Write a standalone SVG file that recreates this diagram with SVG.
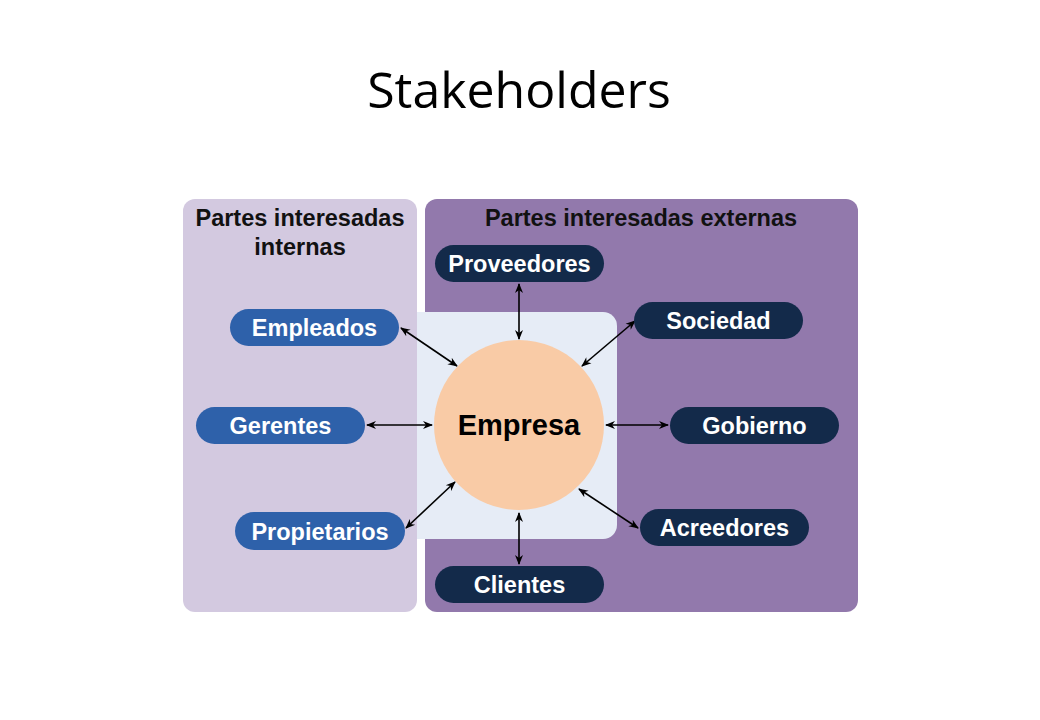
<svg xmlns="http://www.w3.org/2000/svg" width="1040" height="720" viewBox="0 0 1040 720">
<defs>
<marker id="ah" viewBox="0 0 10 10" refX="9" refY="5" markerWidth="10" markerHeight="10" markerUnits="userSpaceOnUse" orient="auto-start-reverse">
<path d="M0,1 L10,5 L0,9 L3,5 z" fill="#000"/>
</marker>
<style>
.title{font-family:"Open Sans","Liberation Sans",sans-serif;font-size:50px;fill:#000;text-anchor:middle}
.head{font-family:"Liberation Sans",Arial,sans-serif;font-weight:bold;font-size:23.5px;fill:#111;text-anchor:middle}
.lbl{font-family:"Liberation Sans",Arial,sans-serif;font-weight:bold;font-size:23.5px;fill:#fff;text-anchor:middle}
.int{fill:#2e61aa}
.ext{fill:#132a4a}
.conn line{stroke:#000;stroke-width:1.6;marker-start:url(#ah);marker-end:url(#ah)}
</style>
</defs>
<rect width="1040" height="720" fill="#fff"/>
<text class="title" x="519" y="108">Stakeholders</text>
<g id="panel-internas">
<rect x="183" y="199" width="234" height="413" rx="12" fill="#d3c9e0"/>
<text class="head" x="300" y="226">Partes interesadas</text>
<text class="head" x="300" y="255">internas</text>
</g>
<g id="panel-externas">
<rect x="425" y="199" width="433" height="413" rx="12" fill="#9279ac"/>
<text class="head" x="641" y="226">Partes interesadas externas</text>
</g>
<g id="core-area">
<path d="M417,312 H603 A14,14 0 0 1 617,326 V525 A14,14 0 0 1 603,539 H417 Z" fill="#e6ecf6"/>
</g>
<g class="conn" id="connectors">
<line x1="519" y1="284" x2="519" y2="339"/>
<line x1="635" y1="321" x2="582" y2="366"/>
<line x1="606" y1="425" x2="668" y2="425"/>
<line x1="579" y1="489" x2="638" y2="528"/>
<line x1="519" y1="513" x2="519" y2="564"/>
<line x1="367" y1="425" x2="432" y2="425"/>
<line x1="401" y1="328" x2="457" y2="366"/>
<line x1="406" y1="528" x2="455" y2="482"/>
</g>
<g id="empresa">
<circle cx="519" cy="425" r="85" fill="#f9cba6"/>
<text x="519" y="435" font-family="Liberation Sans, Arial, sans-serif" font-weight="bold" font-size="29" fill="#000" text-anchor="middle">Empresa</text>
</g>
<g id="proveedores"><rect class="ext" x="435" y="245" width="169" height="37" rx="18.5"/><text class="lbl" x="519.5" y="272">Proveedores</text></g>
<g id="sociedad"><rect class="ext" x="634" y="302" width="169" height="37" rx="18.5"/><text class="lbl" x="718.5" y="329">Sociedad</text></g>
<g id="gobierno"><rect class="ext" x="670" y="407" width="169" height="37" rx="18.5"/><text class="lbl" x="754.5" y="434">Gobierno</text></g>
<g id="acreedores"><rect class="ext" x="640" y="509" width="169" height="37" rx="18.5"/><text class="lbl" x="724.5" y="536">Acreedores</text></g>
<g id="clientes"><rect class="ext" x="435" y="566" width="169" height="37" rx="18.5"/><text class="lbl" x="519.5" y="593">Clientes</text></g>
<g id="empleados"><rect class="int" x="230" y="309" width="169" height="37" rx="18.5"/><text class="lbl" x="314.5" y="336">Empleados</text></g>
<g id="gerentes"><rect class="int" x="196" y="407" width="169" height="37" rx="18.5"/><text class="lbl" x="280.5" y="434">Gerentes</text></g>
<g id="propietarios"><rect class="int" x="235" y="512" width="170" height="38" rx="19"/><text class="lbl" x="320" y="539.5">Propietarios</text></g>
</svg>
